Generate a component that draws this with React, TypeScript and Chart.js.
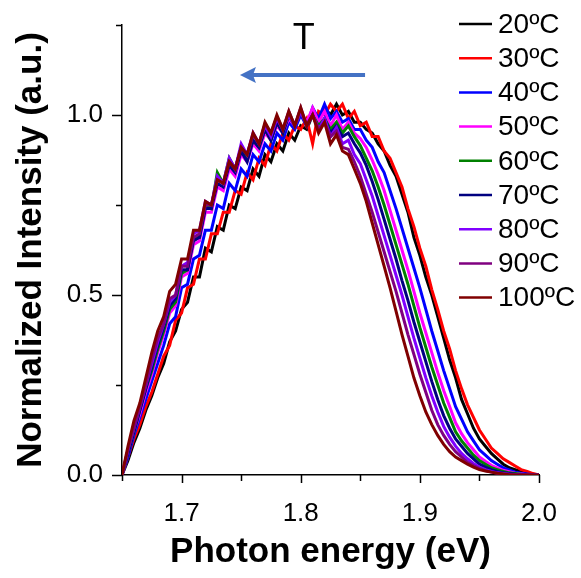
import React, { useEffect, useRef } from 'react';
import { Chart, registerables } from 'chart.js';
Chart.register(...registerables);

const energy = [
  1.650, 1.655, 1.660, 1.665, 1.670, 1.675, 1.680, 1.685, 1.690, 1.695,
  1.700, 1.705, 1.710, 1.715, 1.720, 1.725, 1.730, 1.735, 1.740, 1.745,
  1.750, 1.755, 1.760, 1.765, 1.770, 1.775, 1.780, 1.785, 1.790, 1.795,
  1.800, 1.805, 1.810, 1.815, 1.820, 1.825, 1.830, 1.835, 1.840, 1.845,
  1.850, 1.855, 1.860, 1.865, 1.870, 1.875, 1.880, 1.885, 1.890, 1.895,
  1.900, 1.905, 1.910, 1.915, 1.920, 1.925, 1.930, 1.935, 1.940, 1.945,
  1.950, 1.955, 1.960, 1.965, 1.970, 1.975, 1.980, 1.985, 1.990, 1.995,
  2.000,
];

const seriesLabels = ['20ºC', '30ºC', '40ºC', '50ºC', '60ºC', '70ºC', '80ºC', '90ºC', '100ºC'];
const seriesColors = ['#000000', '#FF0000', '#0000FF', '#FF00FF', '#008000', '#000080', '#8000FF', '#800080', '#800000'];

const s20 = [
  0, 0.04, 0.09, 0.13, 0.18, 0.22, 0.27, 0.31, 0.37, 0.40,
  0.46, 0.48, 0.55, 0.55, 0.63, 0.62, 0.69, 0.68, 0.75, 0.74,
  0.80, 0.79, 0.85, 0.83, 0.89, 0.87, 0.92, 0.90, 0.95, 0.93,
  0.97, 0.96, 1.00, 0.98, 1.02, 1.00, 1.03, 1.00, 1.01, 0.98,
  0.98, 0.96, 0.95, 0.92, 0.90, 0.86, 0.83, 0.78, 0.73, 0.66,
  0.61, 0.55, 0.50, 0.44, 0.38, 0.32, 0.27, 0.21, 0.17, 0.13,
  0.10, 0.08, 0.06, 0.045, 0.03, 0.02, 0.015, 0.01, 0.005, 0.002,
  0,
];
const s30 = [
  0, 0.05, 0.10, 0.14, 0.19, 0.23, 0.28, 0.33, 0.36, 0.43,
  0.45, 0.52, 0.53, 0.60, 0.60, 0.67, 0.67, 0.73, 0.73, 0.79,
  0.78, 0.84, 0.82, 0.88, 0.86, 0.92, 0.90, 0.95, 0.93, 0.97,
  0.96, 0.99, 0.92, 1.01, 1.00, 1.03, 1.01, 1.03, 0.99, 1.01,
  0.97, 0.98, 0.94, 0.94, 0.90, 0.88, 0.84, 0.80, 0.74, 0.69,
  0.63, 0.58, 0.515, 0.46, 0.40, 0.35, 0.29, 0.24, 0.195, 0.16,
  0.125, 0.10, 0.075, 0.06, 0.045, 0.035, 0.025, 0.015, 0.01, 0.004,
  0,
];
const s40 = [
  0, 0.05, 0.11, 0.16, 0.21, 0.26, 0.31, 0.36, 0.42, 0.44,
  0.52, 0.53, 0.60, 0.61, 0.68, 0.68, 0.75, 0.74, 0.81, 0.79,
  0.85, 0.83, 0.89, 0.87, 0.92, 0.90, 0.95, 0.93, 0.98, 0.96,
  1.00, 0.97, 1.02, 0.99, 1.03, 0.99, 1.01, 0.98, 0.99, 0.96,
  0.96, 0.93, 0.91, 0.87, 0.84, 0.79, 0.74, 0.685, 0.63, 0.575,
  0.52, 0.46, 0.40, 0.345, 0.29, 0.24, 0.19, 0.155, 0.12, 0.095,
  0.07, 0.055, 0.04, 0.03, 0.02, 0.014, 0.008, 0.005, 0.003, 0.001,
  0,
];
const s50 = [
  0, 0.06, 0.12, 0.17, 0.23, 0.28, 0.34, 0.39, 0.45, 0.47,
  0.55, 0.56, 0.64, 0.65, 0.73, 0.73, 0.80, 0.79, 0.85, 0.83,
  0.89, 0.87, 0.92, 0.90, 0.95, 0.93, 0.97, 0.95, 0.99, 0.97,
  1.01, 0.98, 1.02, 0.98, 1.01, 0.97, 1.00, 0.96, 0.98, 0.95,
  0.935, 0.91, 0.875, 0.835, 0.79, 0.735, 0.68, 0.625, 0.57, 0.51,
  0.45, 0.395, 0.34, 0.285, 0.235, 0.19, 0.145, 0.115, 0.09, 0.07,
  0.05, 0.038, 0.027, 0.02, 0.013, 0.009, 0.005, 0.003, 0.001, 0,
  0,
];
const s60 = [
  0, 0.06, 0.12, 0.18, 0.24, 0.29, 0.35, 0.40, 0.46, 0.48,
  0.56, 0.57, 0.66, 0.66, 0.75, 0.74, 0.84, 0.81, 0.88, 0.85,
  0.91, 0.88, 0.93, 0.91, 0.96, 0.93, 0.98, 0.95, 1.00, 0.97,
  1.01, 0.97, 1.00, 0.97, 0.99, 0.96, 0.98, 0.95, 0.97, 0.94,
  0.915, 0.88, 0.845, 0.80, 0.75, 0.695, 0.64, 0.585, 0.53, 0.47,
  0.41, 0.355, 0.30, 0.25, 0.20, 0.16, 0.12, 0.095, 0.075, 0.055,
  0.04, 0.03, 0.02, 0.015, 0.01, 0.006, 0.004, 0.002, 0.001, 0,
  0,
];
const s70 = [
  0, 0.06, 0.12, 0.18, 0.24, 0.30, 0.36, 0.41, 0.47, 0.49,
  0.57, 0.57, 0.65, 0.66, 0.74, 0.74, 0.81, 0.80, 0.86, 0.84,
  0.90, 0.87, 0.93, 0.91, 0.96, 0.93, 0.98, 0.95, 1.00, 0.97,
  1.01, 0.97, 1.00, 0.96, 0.99, 0.95, 0.97, 0.94, 0.95, 0.92,
  0.895, 0.86, 0.815, 0.765, 0.71, 0.655, 0.60, 0.54, 0.485, 0.425,
  0.37, 0.315, 0.26, 0.21, 0.165, 0.13, 0.10, 0.08, 0.06, 0.045,
  0.03, 0.022, 0.015, 0.01, 0.006, 0.004, 0.002, 0.001, 0, 0,
  0,
];
const s80 = [
  0, 0.07, 0.13, 0.19, 0.25, 0.31, 0.37, 0.42, 0.48, 0.50,
  0.58, 0.59, 0.67, 0.68, 0.76, 0.75, 0.83, 0.81, 0.88, 0.85,
  0.92, 0.89, 0.95, 0.92, 0.97, 0.94, 0.99, 0.96, 1.00, 0.97,
  1.01, 0.97, 1.00, 0.96, 0.99, 0.94, 0.965, 0.92, 0.93, 0.89,
  0.865, 0.82, 0.775, 0.72, 0.665, 0.61, 0.555, 0.50, 0.44, 0.38,
  0.325, 0.27, 0.22, 0.175, 0.135, 0.105, 0.08, 0.06, 0.045, 0.032,
  0.022, 0.015, 0.01, 0.006, 0.004, 0.002, 0.001, 0, 0, 0,
  0,
];
const s90 = [
  0, 0.07, 0.13, 0.19, 0.25, 0.32, 0.38, 0.42, 0.49, 0.50,
  0.58, 0.58, 0.66, 0.67, 0.75, 0.75, 0.82, 0.81, 0.87, 0.85,
  0.91, 0.89, 0.945, 0.92, 0.975, 0.95, 0.995, 0.96, 1.01, 0.97,
  1.02, 0.97, 1.00, 0.96, 0.98, 0.94, 0.955, 0.91, 0.905, 0.87,
  0.83, 0.78, 0.73, 0.675, 0.62, 0.565, 0.51, 0.45, 0.39, 0.335,
  0.28, 0.23, 0.18, 0.14, 0.11, 0.085, 0.065, 0.05, 0.035, 0.026,
  0.018, 0.012, 0.008, 0.005, 0.003, 0.002, 0.001, 0, 0, 0,
  0,
];
const s100 = [
  0, 0.08, 0.15, 0.20, 0.27, 0.34, 0.40, 0.44, 0.51, 0.53,
  0.60, 0.60, 0.68, 0.68, 0.76, 0.75, 0.82, 0.81, 0.87, 0.85,
  0.91, 0.89, 0.95, 0.92, 0.98, 0.95, 1.00, 0.96, 1.01, 0.97,
  1.02, 0.97, 1.00, 0.95, 0.98, 0.92, 0.945, 0.90, 0.89, 0.85,
  0.81, 0.76, 0.70, 0.64, 0.58, 0.52, 0.455, 0.39, 0.33, 0.27,
  0.22, 0.175, 0.14, 0.11, 0.085, 0.065, 0.05, 0.04, 0.03, 0.022,
  0.015, 0.011, 0.008, 0.005, 0.003, 0.001, 0, 0, 0, 0,
  0,
];
const allSeries = [s20, s30, s40, s50, s60, s70, s80, s90, s100];

const xMajorTicks = [1.7, 1.8, 1.9, 2.0];
const xMinorTicks = [1.65, 1.75, 1.85, 1.95];
const yMajorTicks = [0, 0.5, 1.0];
const yMinorTicks = [0.25, 0.75, 1.25];

const arrowTail = { x: 1.854, y: 1.111 };
const arrowTip = { x: 1.749, y: 1.111 };
const arrowLabel = { x: 1.8025, y: 1.21, text: 'T' };

const FONT = "'Liberation Sans', Arial, Helvetica, sans-serif";

export default function App() {
  const ref = useRef<HTMLCanvasElement>(null);
  useEffect(() => {
    document.body.style.margin = '0';
    const canvas = ref.current;
    if (!canvas) return;

    const overlay = {
      id: 'overlay',
      afterDraw(chart: any) {
        const { ctx, scales } = chart;
        const x = scales.x;
        const y = scales.y;
        const ax = chart.chartArea;
        ctx.save();
        ctx.strokeStyle = '#000';
        ctx.lineWidth = 1.5;
        ctx.beginPath();
        xMajorTicks.forEach((v) => {
          const px = Math.round(x.getPixelForValue(v)) + 0.5;
          ctx.moveTo(px, ax.bottom);
          ctx.lineTo(px, ax.bottom + 8);
        });
        xMinorTicks.forEach((v) => {
          const px = Math.round(x.getPixelForValue(v)) + 0.5;
          ctx.moveTo(px, ax.bottom);
          ctx.lineTo(px, ax.bottom + 6);
        });
        yMajorTicks.forEach((v) => {
          const py = Math.round(y.getPixelForValue(v)) + 0.5;
          ctx.moveTo(ax.left, py);
          ctx.lineTo(ax.left - 10, py);
        });
        yMinorTicks.forEach((v) => {
          const py = Math.round(y.getPixelForValue(v)) + 0.5;
          ctx.moveTo(ax.left, py);
          ctx.lineTo(ax.left - 6, py);
        });
        ctx.stroke();

        // legend
        ctx.font = `28px ${FONT}`;
        ctx.textBaseline = 'middle';
        ctx.textAlign = 'left';
        seriesLabels.forEach((lab, i) => {
          const ly = 24 + i * 34.2;
          ctx.strokeStyle = seriesColors[i];
          ctx.lineWidth = 2.5;
          ctx.beginPath();
          ctx.moveTo(459, ly);
          ctx.lineTo(492, ly);
          ctx.stroke();
          ctx.fillStyle = '#000';
          ctx.fillText(lab, 498, ly + 1);
        });

        // arrow
        const tx = x.getPixelForValue(arrowTail.x);
        const ty = y.getPixelForValue(arrowTail.y);
        const hx = x.getPixelForValue(arrowTip.x);
        const hy = y.getPixelForValue(arrowTip.y);
        ctx.strokeStyle = '#4472C4';
        ctx.fillStyle = '#4472C4';
        ctx.lineWidth = 4;
        ctx.beginPath();
        ctx.moveTo(tx, ty);
        ctx.lineTo(hx + 12, hy);
        ctx.stroke();
        ctx.beginPath();
        ctx.moveTo(hx, hy);
        ctx.lineTo(hx + 16, hy - 8);
        ctx.lineTo(hx + 13, hy);
        ctx.lineTo(hx + 16, hy + 8);
        ctx.closePath();
        ctx.fill();

        ctx.fillStyle = '#000';
        ctx.font = `36px ${FONT}`;
        ctx.textAlign = 'center';
        ctx.textBaseline = 'middle';
        ctx.fillText(arrowLabel.text, x.getPixelForValue(arrowLabel.x), y.getPixelForValue(arrowLabel.y));
        ctx.restore();
      },
    };

    const chart = new Chart(canvas, {
      type: 'line',
      data: {
        datasets: allSeries.map((s, i) => ({
          label: seriesLabels[i],
          data: s.map((v, j) => ({ x: energy[j], y: v })),
          borderColor: seriesColors[i],
          backgroundColor: seriesColors[i],
          borderWidth: 3,
          pointRadius: 0,
          tension: 0,
          fill: false,
          order: allSeries.length - i,
        })),
      },
      options: {
        animation: false,
        responsive: false,
        devicePixelRatio: 1,
        layout: { padding: { top: 25, right: 42, left: 0, bottom: 0 } },
        plugins: { legend: { display: false }, tooltip: { enabled: false } },
        scales: {
          x: {
            type: 'linear',
            min: 1.65,
            max: 2.0,
            afterBuildTicks: (s: any) => {
              s.ticks = xMajorTicks.map((v) => ({ value: v }));
            },
            afterFit: (s: any) => {
              s.height = 103;
              s.paddingLeft = 0;
              s.paddingRight = 0;
            },
            grid: { display: false, drawTicks: false },
            border: { display: true, color: '#000', width: 1.5 },
            ticks: {
              color: '#000',
              font: { family: FONT, size: 26 },
              padding: 23,
              maxRotation: 0,
              autoSkip: false,
              callback: (v: any) => Number(v).toFixed(1),
            },
            title: {
              display: true,
              text: 'Photon energy (eV)',
              color: '#000',
              font: { family: FONT, size: 35, weight: 'bold' },
              padding: { top: 0, bottom: 5 },
            },
          },
          y: {
            type: 'linear',
            min: 0,
            max: 1.25,
            afterBuildTicks: (s: any) => {
              s.ticks = yMajorTicks.map((v) => ({ value: v }));
            },
            afterFit: (s: any) => {
              s.width = 122;
              s.paddingTop = 0;
              s.paddingBottom = 0;
            },
            grid: { display: false, drawTicks: false },
            border: { display: true, color: '#000', width: 1.5 },
            ticks: {
              color: '#000',
              font: { family: FONT, size: 26 },
              padding: 19,
              callback: (v: any) => Number(v).toFixed(1),
            },
            title: {
              display: true,
              text: 'Normalized Intensity (a.u.)',
              color: '#000',
              font: { family: FONT, size: 35, weight: 'bold' },
              padding: { top: 10, bottom: 0 },
            },
          },
        },
      },
      plugins: [overlay],
    } as any);
    return () => chart.destroy();
  }, []);
  return <canvas ref={ref} width={581} height={578} style={{ display: 'block' }} />;
}
